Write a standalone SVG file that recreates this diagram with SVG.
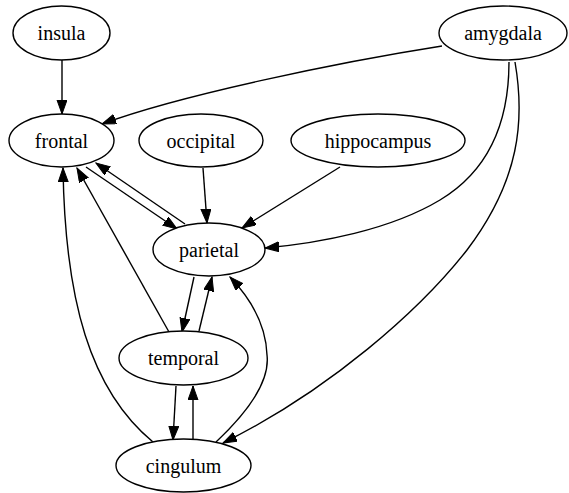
<svg xmlns="http://www.w3.org/2000/svg" width="569" height="493" viewBox="0 0 569 493">
<defs>
<marker id="arr" markerUnits="userSpaceOnUse" markerWidth="15" markerHeight="11" refX="14" refY="5" orient="auto">
<path d="M0,0 L14,5 L0,10 z" fill="#000" stroke="#000" stroke-width="1"/>
</marker>
<style>
.n ellipse{fill:#fff;stroke:#000;stroke-width:1.4}
.n text{font-size:20px;text-anchor:middle;fill:#000}
.e path{fill:none;stroke:#000;stroke-width:1.4;marker-end:url(#arr)}
</style>
</defs>
<rect width="569" height="493" fill="#fff"/>
<g id="edges" class="e">
<path d="M62,60 L62,114"/>
<path d="M442,46 C340,62 180,95 102,124"/>
<path d="M509,62 C509,120 490,170 440,200 C390,230 320,243 265,248"/>
<path d="M515,62 C525,120 520,180 467,250 C420,310 330,390 223,443"/>
<path d="M203,168 L207,223"/>
<path d="M340,167 L242,228"/>
<path d="M86,167 L177,229"/>
<path d="M185,224 L96,163"/>
<path d="M169,332 L77,168"/>
<path d="M153,442 C90,390 65,300 63,168"/>
<path d="M194,277 L182,332"/>
<path d="M199,331 L212,277"/>
<path d="M176,386 L173,440"/>
<path d="M193,439 L193,386"/>
<path d="M216,442 C250,410 270,380 267,355 C266,325 252,300 230,277"/>
</g>
<g id="insula" class="n"><ellipse cx="61.5" cy="33" rx="48.5" ry="27"/><text x="61.5" y="40" style="font-family:'Times New Roman','Liberation Serif',serif">insula</text></g>
<g id="amygdala" class="n"><ellipse cx="503" cy="33" rx="64" ry="27"/><text x="503" y="40" style="font-family:'Times New Roman','Liberation Serif',serif">amygdala</text></g>
<g id="frontal" class="n"><ellipse cx="61.5" cy="140.5" rx="52.5" ry="26.5"/><text x="61.5" y="147.5" style="font-family:'Times New Roman','Liberation Serif',serif">frontal</text></g>
<g id="occipital" class="n"><ellipse cx="201" cy="140.5" rx="62" ry="26.5"/><text x="201" y="147.5" style="font-family:'Times New Roman','Liberation Serif',serif">occipital</text></g>
<g id="hippocampus" class="n"><ellipse cx="378" cy="140.5" rx="87" ry="26.5"/><text x="378" y="147.5" style="font-family:'Times New Roman','Liberation Serif',serif">hippocampus</text></g>
<g id="parietal" class="n"><ellipse cx="209" cy="249.5" rx="56" ry="26.5"/><text x="209" y="256.5" style="font-family:'Times New Roman','Liberation Serif',serif">parietal</text></g>
<g id="temporal" class="n"><ellipse cx="183.5" cy="358" rx="64.5" ry="27"/><text x="183.5" y="365" style="font-family:'Times New Roman','Liberation Serif',serif">temporal</text></g>
<g id="cingulum" class="n"><ellipse cx="183.5" cy="465.5" rx="67.5" ry="26.5"/><text x="183.5" y="472.5" style="font-family:'Times New Roman','Liberation Serif',serif">cingulum</text></g>
</svg>
